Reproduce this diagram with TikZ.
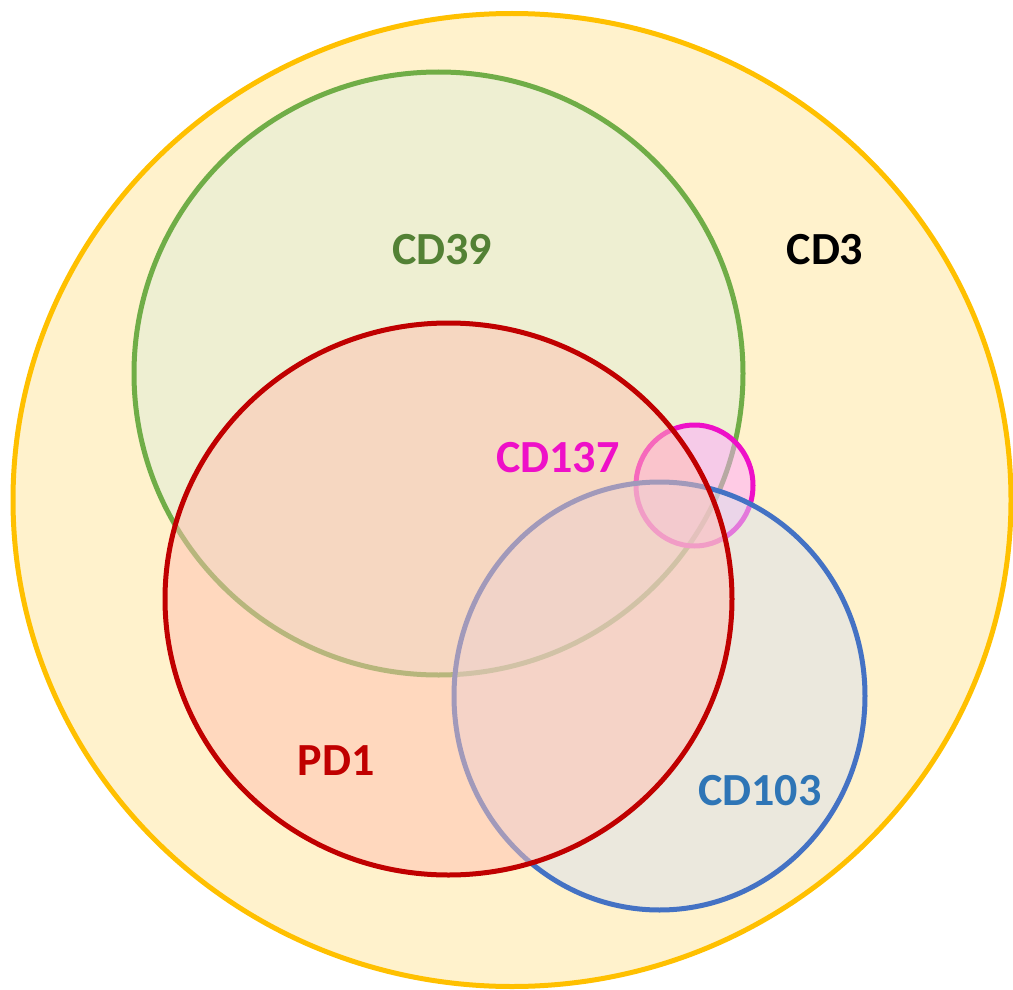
\documentclass[tikz,border=0pt]{standalone}
\usepackage{fontspec}
\setmainfont{Carlito}
\usetikzlibrary{shapes.geometric}
\definecolor{cdthreeline}{HTML}{FFC000}
\definecolor{cdthreefill}{HTML}{FFF2CC}
\definecolor{greenline}{HTML}{70AD47}
\definecolor{greenfill}{HTML}{DFEED8}
\definecolor{greentext}{HTML}{538135}
\definecolor{redline}{HTML}{C00000}
\definecolor{redfill}{HTML}{FFC0B2}
\definecolor{blueline}{HTML}{4472C4}
\definecolor{bluefill}{HTML}{D9E0EE}
\definecolor{bluetext}{HTML}{2E75B6}
\definecolor{magline}{HTML}{EE10C8}
\definecolor{magfill}{HTML}{FFA6FF}
\tikzset{
  setbox/.style={ellipse, inner sep=0pt, draw},
  lbl/.style={font=\fontsize{46}{50}\selectfont\bfseries, inner sep=0pt, anchor=center}
}
\begin{document}
\begin{tikzpicture}[x=1pt,y=-1pt]
\useasboundingbox (0,0) rectangle (1013,990);
\node[setbox, draw=cdthreeline, fill=cdthreefill, line width=5pt,
  minimum width=998pt, minimum height=973pt] (cd3) at (512,500) {};
\node[setbox, draw=greenline, fill=greenfill, fill opacity=0.5, line width=5pt,
  minimum width=609pt, minimum height=603pt] (cd39) at (438.5,373.5) {};
\node[setbox, draw=magline, fill=magfill, fill opacity=0.5, line width=5pt,
  minimum width=117pt, minimum height=121pt] (cd137) at (694.5,485.5) {};
\node[setbox, draw=blueline, fill=bluefill, fill opacity=0.5, line width=5pt,
  minimum width=411pt, minimum height=428pt] (cd103) at (659.5,696) {};
\node[setbox, draw=redline, fill=redfill, fill opacity=0.5, line width=5pt,
  minimum width=567pt, minimum height=552pt] (pd1) at (448.5,599) {};
\node[lbl, text=greentext] (t39) at (442,250) {CD39};
\node[lbl, text=black] (t3) at (825,250) {CD3};
\node[lbl, text=magline] (t137) at (558,458) {CD137};
\node[lbl, text=redline] (tpd1) at (336,761) {PD1};
\node[lbl, text=bluetext] (t103) at (760,791) {CD103};
\end{tikzpicture}
\end{document}
